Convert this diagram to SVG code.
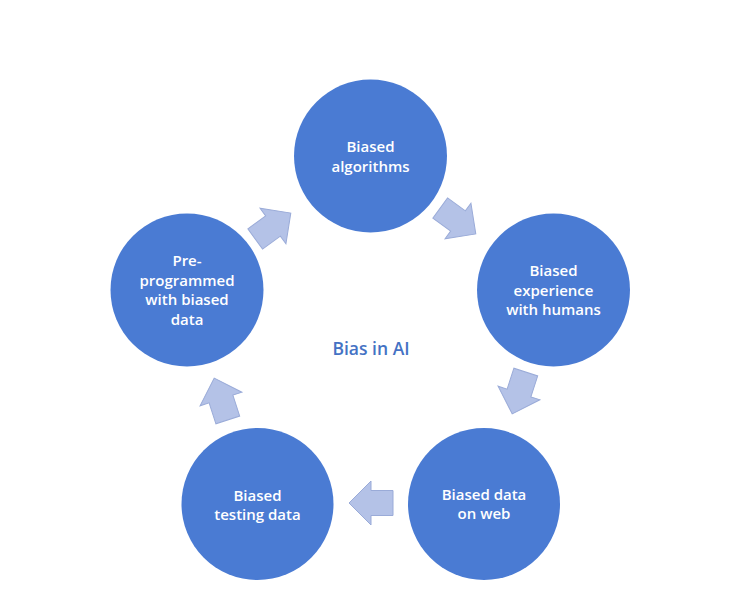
<svg xmlns="http://www.w3.org/2000/svg" width="748" height="594" viewBox="0 0 748 594">
<style>
.node circle{fill:#4a7bd3;}
.node text{fill:#ffffff;font-family:"Open Sans","Noto Sans",sans-serif;font-weight:600;font-size:15px;text-anchor:middle;}
.arr{fill:#b4c2e7;stroke:#9aabd8;stroke-width:1;}
.title{fill:#4472c4;font-family:"Open Sans","Noto Sans",sans-serif;font-weight:600;font-size:17.5px;text-anchor:middle;}
</style>
<defs>
<polygon id="blk" points="-22,-12.5 0,-12.5 0,-22 22,0 0,22 0,12.5 -22,12.5"/>
</defs>
<rect width="748" height="594" fill="#ffffff"/>
<g id="connectors">
<use href="#blk" class="arr" transform="translate(273,226) rotate(-36)"/>
<use href="#blk" class="arr" transform="translate(458,221) rotate(36)"/>
<use href="#blk" class="arr" transform="translate(519,393) rotate(108)"/>
<use href="#blk" class="arr" transform="translate(371,503) rotate(180)"/>
<use href="#blk" class="arr" transform="translate(221,399) rotate(-108)"/>
</g>
<g id="n1" class="node">
<circle cx="370.5" cy="156" r="76.5"/>
<text x="370.5" y="152">Biased</text>
<text x="370.5" y="172">algorithms</text>
</g>
<g id="n2" class="node">
<circle cx="553.5" cy="290" r="76.5"/>
<text x="553.5" y="276">Biased</text>
<text x="553.5" y="295.5">experience</text>
<text x="553.5" y="315">with humans</text>
</g>
<g id="n3" class="node">
<circle cx="484" cy="504" r="76"/>
<text x="484" y="500">Biased data</text>
<text x="484" y="519">on web</text>
</g>
<g id="n4" class="node">
<circle cx="257.5" cy="504" r="76"/>
<text x="257.5" y="500.5">Biased</text>
<text x="257.5" y="519.5">testing data</text>
</g>
<g id="n5" class="node">
<circle cx="187" cy="290" r="76.5"/>
<text x="187" y="266">Pre-</text>
<text x="187" y="285.5">programmed</text>
<text x="187" y="305">with biased</text>
<text x="187" y="324.5">data</text>
</g>
<g id="label">
<text class="title" x="371" y="355">Bias in AI</text>
</g>
</svg>
